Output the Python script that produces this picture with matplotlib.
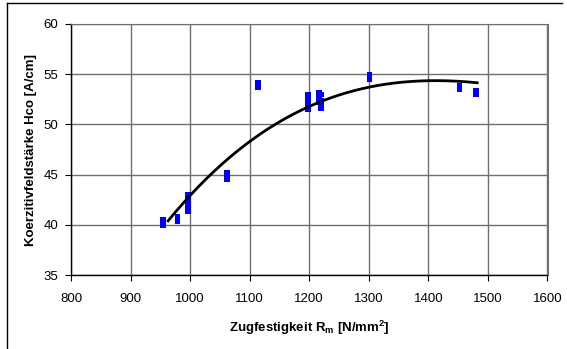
import matplotlib.pyplot as plt
import numpy as np
from matplotlib.lines import Line2D

plt.rcParams['font.family'] = ['Liberation Sans', 'DejaVu Sans']

# tensile strength per sample group and measured coercive field values
rm_groups = [954, 979, 996, 1062, 1114, 1198, 1216, 1220, 1301, 1452, 1480]
hco_groups = [
    [40.5, 40.2, 40.0],
    [40.8, 40.4],
    [43.0, 42.6, 42.1, 41.7, 41.4],
    [45.2, 44.8, 44.5],
    [54.1, 53.7],
    [53.0, 52.6, 52.2, 51.8, 51.5],
    [53.1, 52.7, 52.2],
    [53.0, 52.4, 51.9, 51.6],
    [54.9, 54.5],
    [53.8, 53.5],
    [53.3, 53.0],
]

# trendline
trend_rm = [963, 1000, 1100, 1200, 1300, 1400, 1482]
trend_hco = [40.55, 42.7, 48.3, 51.9, 53.7, 54.25, 54.2]

x_ticks = [800, 900, 1000, 1100, 1200, 1300, 1400, 1500, 1600]
y_ticks = [35, 40, 45, 50, 55, 60]

C_PTS = '#0000ff'
C_GRID = '#707070'

rm = np.concatenate([[x] * len(v) for x, v in zip(rm_groups, hco_groups)])
hco = np.concatenate(hco_groups)

fig = plt.figure(figsize=(5.67, 3.49), dpi=100)
fig.patch.set_facecolor('white')
W, H = 567, 349
ax = fig.add_axes([71 / W, 1 - 275 / H, (547.5 - 71) / W, (275 - 24) / H])

ax.scatter(rm, hco, marker='s', s=16, color=C_PTS, edgecolors='none', zorder=3)

# smooth cubic through the trendline readings
coef = np.polyfit(trend_rm, trend_hco, 3)
xs = np.linspace(trend_rm[0], trend_rm[-1], 200)
ax.plot(xs, np.polyval(coef, xs), color='black', lw=2, zorder=4)

ax.set_xlim(800, 1600)
ax.set_ylim(35, 60)
ax.set_xticks(x_ticks)
ax.set_yticks(y_ticks)
ax.tick_params(labelsize=9.5, length=4, width=0.8, direction='out')
ax.tick_params(axis='x', pad=9)
ax.tick_params(axis='y', pad=5)
ax.grid(True, color=C_GRID, lw=1, zorder=0)
ax.set_axisbelow(True)
for side in ['top', 'right']:
    ax.spines[side].set_color(C_GRID)
for side in ['left', 'bottom']:
    ax.spines[side].set_color('black')
    ax.spines[side].set_linewidth(1)

ax.set_xlabel('Zugfestigkeit R$_\\mathregular{m}$ [N/mm$^\\mathregular{2}$]',
              fontsize=9.5, fontweight='bold', labelpad=10)
ax.set_ylabel('Koerzitivfeldstärke Hco [A/cm]', fontsize=9.5, fontweight='bold', labelpad=5)

# chart frame (only left and top edges visible in the crop)
fig.add_artist(Line2D([7 / W, 7 / W], [0, 1 - 3 / H], transform=fig.transFigure, color='black', lw=1))
fig.add_artist(Line2D([7 / W, 562 / W], [1 - 3 / H, 1 - 3 / H], transform=fig.transFigure, color='black', lw=1))

fig.savefig('out.png', dpi=100, facecolor='white')
